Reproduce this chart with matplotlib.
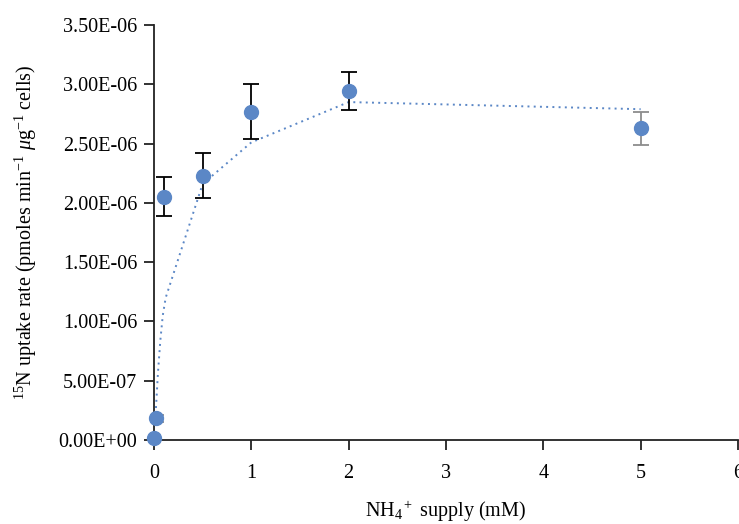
import matplotlib
matplotlib.use("Agg")
import matplotlib.pyplot as plt

# data (concentration in mM, rate in 1e-6 pmoles min^-1 ug^-1 cells)
supply = [0.0, 0.02, 0.1, 0.5, 1.0, 2.0, 5.0]
rate = [0.015, 0.183, 2.05, 2.23, 2.77, 2.94, 2.63]
err = [0.0, 0.03, 0.165, 0.19, 0.23, 0.16, 0.14]
err_colors = ["black", "#8c8c8c", "black", "black", "black", "black", "#8c8c8c"]

fit_x = [0.02, 0.04, 0.065, 0.09, 0.12, 0.5, 1.0, 2.0, 5.0]
fit_y = [0.27, 0.56, 0.84, 1.05, 1.20, 2.16, 2.51, 2.85, 2.79]

yticks = [0.0, 0.5, 1.0, 1.5, 2.0, 2.5, 3.0, 3.5]
ytick_labels = ["0.00E+00", "5.00E-07", "1.00E-06", "1.50E-06", "2.00E-06",
                "2.50E-06", "3.00E-06", "3.50E-06"]
xticks = [0, 1, 2, 3, 4, 5, 6]

plt.rcParams["font.family"] = ["Liberation Serif", "DejaVu Serif"]
plt.rcParams["mathtext.fontset"] = "custom"
plt.rcParams["mathtext.rm"] = "Liberation Serif"
plt.rcParams["mathtext.it"] = "Liberation Serif:italic"

blue = "#5b87c6"
fig = plt.figure(figsize=(7.39, 5.24), dpi=100)
ax = fig.add_axes([0.2084, 0.1603, 0.7902, 0.792])

ax.plot(fit_x, fit_y, linestyle=(0, (1, 2.2)), color=blue, lw=1.4, zorder=2)
for x, y, e, c in zip(supply, rate, err, err_colors):
    if e > 0:
        ax.errorbar([x], [y], yerr=[e], fmt="none", ecolor=c, elinewidth=1.3,
                    capsize=6, capthick=1.3, zorder=3)
ax.plot(supply, rate, "o", color=blue, markersize=10, zorder=4, clip_on=False)

ax.set_xlim(0, 6)
ax.set_ylim(0, 3.5)
ax.set_xticks(xticks)
ax.set_yticks(yticks)
ax.set_yticklabels(ytick_labels)
for s in ["top", "right"]:
    ax.spines[s].set_visible(False)
for s in ["left", "bottom"]:
    ax.spines[s].set_linewidth(1.3)
    ax.spines[s].set_color("#222222")
ax.tick_params(direction="out", length=7, width=1.3, labelsize=14.5, color="#222222")
ax.tick_params(axis="x", pad=10)
ax.tick_params(axis="y", pad=5)

ax.set_xlabel(r"NH$_4$$^+$ supply (mM)", fontsize=14.5, labelpad=12)
ax.set_ylabel(r"$^{15}$N uptake rate (pmoles min$^{-1}$ $\mathit{\mu}$g$^{-1}$ cells)",
              fontsize=14.5, labelpad=14)

fig.savefig("out.png", dpi=100)
